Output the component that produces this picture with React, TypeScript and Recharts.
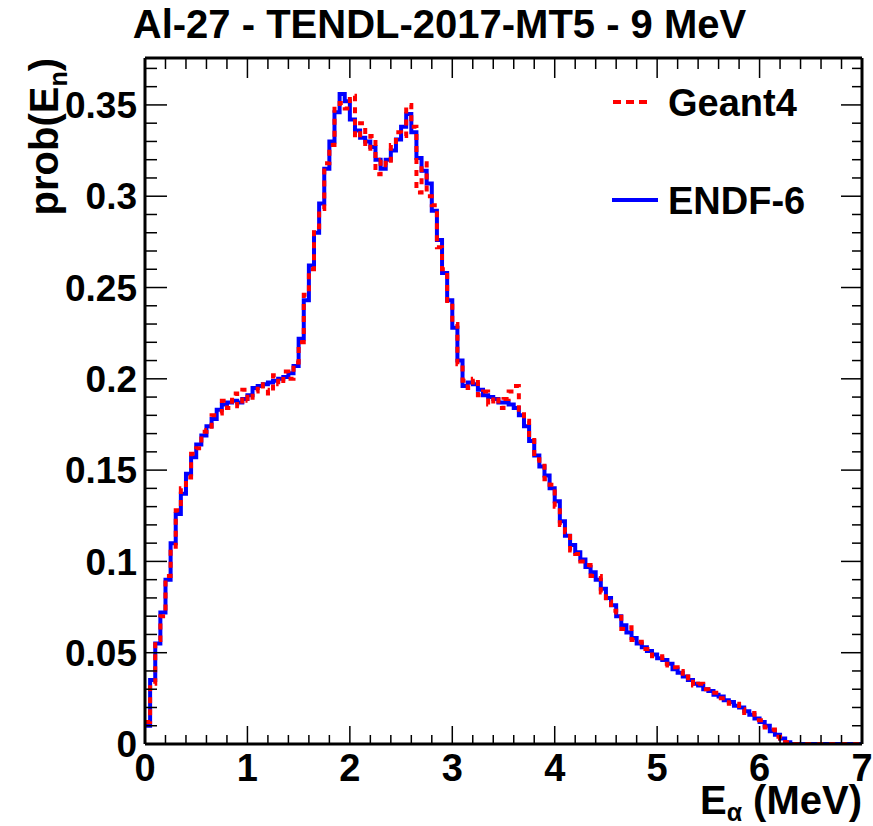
import { LineChart, Line, XAxis, YAxis } from 'recharts'

// bin lower edges (MeV)
const energies = [
  0.0, 0.05, 0.1, 0.15, 0.2, 0.25, 0.3, 0.35, 0.4, 0.45,
  0.5, 0.55, 0.6, 0.65, 0.7, 0.75, 0.8, 0.85, 0.9, 0.95,
  1.0, 1.05, 1.1, 1.15, 1.2, 1.25, 1.3, 1.35, 1.4, 1.45,
  1.5, 1.55, 1.6, 1.65, 1.7, 1.75, 1.8, 1.85, 1.9, 1.95,
  2.0, 2.05, 2.1, 2.15, 2.2, 2.25, 2.3, 2.35, 2.4, 2.45,
  2.5, 2.55, 2.6, 2.65, 2.7, 2.75, 2.8, 2.85, 2.9, 2.95,
  3.0, 3.05, 3.1, 3.15, 3.2, 3.25, 3.3, 3.35, 3.4, 3.45,
  3.5, 3.55, 3.6, 3.65, 3.7, 3.75, 3.8, 3.85, 3.9, 3.95,
  4.0, 4.05, 4.1, 4.15, 4.2, 4.25, 4.3, 4.35, 4.4, 4.45,
  4.5, 4.55, 4.6, 4.65, 4.7, 4.75, 4.8, 4.85, 4.9, 4.95,
  5.0, 5.05, 5.1, 5.15, 5.2, 5.25, 5.3, 5.35, 5.4, 5.45,
  5.5, 5.55, 5.6, 5.65, 5.7, 5.75, 5.8, 5.85, 5.9, 5.95,
  6.0, 6.05, 6.1, 6.15, 6.2, 6.25, 6.3, 7.0,
]

const endf6 = [
  0.010, 0.035, 0.055, 0.072, 0.090, 0.110, 0.126, 0.137, 0.148, 0.157,
  0.164, 0.169, 0.174, 0.178, 0.183, 0.186, 0.187, 0.188, 0.187, 0.189,
  0.191, 0.195, 0.196, 0.197, 0.198, 0.199, 0.200, 0.201, 0.203, 0.207,
  0.222, 0.243, 0.262, 0.280, 0.296, 0.315, 0.330, 0.346, 0.356, 0.352,
  0.342, 0.336, 0.332, 0.330, 0.327, 0.320, 0.315, 0.320, 0.325, 0.331,
  0.338, 0.345, 0.335, 0.321, 0.314, 0.307, 0.292, 0.276, 0.258, 0.243,
  0.228, 0.210, 0.196, 0.198, 0.197, 0.194, 0.191, 0.190, 0.189, 0.187,
  0.187, 0.186, 0.184, 0.180, 0.174, 0.166, 0.158, 0.152, 0.147, 0.140,
  0.133, 0.122, 0.114, 0.109, 0.105, 0.101, 0.097, 0.094, 0.090, 0.085,
  0.080, 0.076, 0.070, 0.065, 0.061, 0.058, 0.055, 0.053, 0.051, 0.049,
  0.047, 0.046, 0.044, 0.041, 0.039, 0.037, 0.035, 0.033, 0.032, 0.030,
  0.029, 0.027, 0.026, 0.024, 0.023, 0.021, 0.020, 0.018, 0.016, 0.014,
  0.012, 0.010, 0.007, 0.005, 0.003, 0.001, 0, 0,
]

const geant4 = [
  0.012, 0.033, 0.057, 0.070, 0.092, 0.108, 0.128, 0.140, 0.146, 0.159,
  0.162, 0.171, 0.172, 0.180, 0.181, 0.188, 0.184, 0.192, 0.185, 0.194,
  0.188, 0.193, 0.197, 0.194, 0.192, 0.202, 0.197, 0.204, 0.200, 0.209,
  0.220, 0.246, 0.260, 0.283, 0.293, 0.318, 0.328, 0.349, 0.351, 0.348,
  0.355, 0.332, 0.340, 0.326, 0.333, 0.312, 0.320, 0.317, 0.328, 0.335,
  0.333, 0.350, 0.338, 0.302, 0.318, 0.300, 0.295, 0.272, 0.260, 0.240,
  0.230, 0.208, 0.199, 0.195, 0.200, 0.191, 0.193, 0.186, 0.190, 0.184,
  0.189, 0.193, 0.196, 0.183, 0.177, 0.168, 0.156, 0.154, 0.145, 0.142,
  0.130, 0.120, 0.116, 0.106, 0.104, 0.100, 0.098, 0.092, 0.092, 0.083,
  0.078, 0.073, 0.072, 0.063, 0.064, 0.057, 0.056, 0.052, 0.052, 0.048,
  0.048, 0.044, 0.043, 0.042, 0.040, 0.036, 0.037, 0.032, 0.033, 0.030,
  0.028, 0.028, 0.025, 0.025, 0.022, 0.022, 0.019, 0.017, 0.017, 0.013,
  0.013, 0.009, 0.008, 0.004, 0.003, 0.001, 0, 0,
]

const xMajor = [0, 1, 2, 3, 4, 5, 6, 7]
const xMinor = [
  0, 0.2, 0.4, 0.6, 0.8, 1, 1.2, 1.4, 1.6, 1.8, 2, 2.2, 2.4, 2.6, 2.8, 3, 3.2, 3.4,
  3.6, 3.8, 4, 4.2, 4.4, 4.6, 4.8, 5, 5.2, 5.4, 5.6, 5.8, 6, 6.2, 6.4, 6.6, 6.8, 7,
]
const yMajor = [0, 0.05, 0.1, 0.15, 0.2, 0.25, 0.3, 0.35]
const yLabels = ['0', '0.05', '0.1', '0.15', '0.2', '0.25', '0.3', '0.35']
const yMinor = [
  0, 0.01, 0.02, 0.03, 0.04, 0.05, 0.06, 0.07, 0.08, 0.09, 0.1, 0.11, 0.12, 0.13,
  0.14, 0.15, 0.16, 0.17, 0.18, 0.19, 0.2, 0.21, 0.22, 0.23, 0.24, 0.25, 0.26,
  0.27, 0.28, 0.29, 0.3, 0.31, 0.32, 0.33, 0.34, 0.35, 0.36, 0.37,
]

const X_DOMAIN: [number, number] = [0, 7]
const Y_DOMAIN: [number, number] = [0, 0.3757]
const FONT = '"Liberation Sans", Arial, Helvetica, sans-serif'
const AX = { stroke: '#000', strokeWidth: 3 }
const TICK_W = 1.5

const data = energies.map((e, i) => ({ e, endf: endf6[i], geant: geant4[i] }))

// ticks are drawn inward from the frame, ROOT style
function BottomTick({ x, y, payload }: any) {
  const major = xMajor.includes(payload.value)
  return (
    <g>
      <line x1={x} x2={x} y1={y} y2={y - (major ? 18 : 9)} stroke="#000" strokeWidth={TICK_W} />
      {major && (
        <text x={x} y={y + 10} dy="0.71em" textAnchor="middle" fontFamily={FONT} fontWeight="bold" fontSize={38} fill="#000">
          {payload.value}
        </text>
      )}
    </g>
  )
}

function TopTick({ x, y, payload }: any) {
  const major = xMajor.includes(payload.value)
  return <line x1={x} x2={x} y1={y} y2={y + (major ? 20 : 11)} stroke="#000" strokeWidth={TICK_W} />
}

function LeftTick({ x, y, payload }: any) {
  const i = yMajor.indexOf(payload.value)
  return (
    <g>
      <line x1={x} x2={x + (i >= 0 ? 22 : 12)} y1={y} y2={y} stroke="#000" strokeWidth={TICK_W} />
      {i >= 0 && (
        <text x={x - 8} y={y} dy="0.355em" textAnchor="end" fontFamily={FONT} fontWeight="bold" fontSize={37} fill="#000">
          {yLabels[i]}
        </text>
      )}
    </g>
  )
}

function RightTick({ x, y, payload }: any) {
  const major = yMajor.includes(payload.value)
  return <line x1={x} x2={x - (major ? 21 : 10)} y1={y} y2={y} stroke="#000" strokeWidth={TICK_W} />
}

function XTitle(props: any) {
  const { x, y, width } = props.viewBox
  return (
    <text x={x + width} y={y + 70} textAnchor="end" fontFamily={FONT} fontWeight="bold" fontSize={40} fill="#000">
      E<tspan fontSize={25} dy={7}>α</tspan><tspan dy={-7}> (MeV)</tspan>
    </text>
  )
}

function YTitle(props: any) {
  const { y } = props.viewBox
  return (
    <text x={0} y={0} transform={`translate(58, ${y}) rotate(-90)`} textAnchor="end" fontFamily={FONT} fontWeight="bold" fontSize={40} fill="#000">
      prob(E<tspan fontSize={25} dy={9}>n</tspan><tspan dy={-9}>)</tspan>
    </text>
  )
}

function LegendBox() {
  return (
    <svg width={230} height={150} style={{ position: 'absolute', left: 605, top: 80 }}>
      <line x1={8} x2={47} y1={22} y2={22} stroke="#ff0000" strokeWidth={4} strokeDasharray="8 5" />
      <text x={63} y={36} fontFamily={FONT} fontWeight="bold" fontSize={38} fill="#000">Geant4</text>
      <line x1={7} x2={53} y1={120} y2={120} stroke="#0000ff" strokeWidth={4} />
      <text x={63} y={134} fontFamily={FONT} fontWeight="bold" fontSize={38} fill="#000">ENDF-6</text>
    </svg>
  )
}

export default function App() {
  return (
    <div style={{ position: 'absolute', left: 0, top: 0, width: 873, height: 826, background: '#fff' }}>
      <div style={{ position: 'absolute', left: 0, width: 873, top: 1, textAlign: 'center', fontFamily: FONT, fontWeight: 'bold', fontSize: 40, lineHeight: '46px', paddingLeft: 6, boxSizing: 'border-box' }}>
        Al-27 - TENDL-2017-MT5 - 9 MeV
      </div>
      <LineChart width={873} height={826} data={data} margin={{ top: 57, right: 10, bottom: 81, left: 144 }} style={{ position: 'absolute', left: 0, top: 0 }}>
        <XAxis xAxisId="x" dataKey="e" type="number" domain={X_DOMAIN} ticks={xMinor} height={1} interval={0}
          axisLine={AX} tickLine={false} tickSize={0} tickMargin={0} allowDataOverflow
          tick={<BottomTick />} label={{ content: XTitle }} />
        <XAxis xAxisId="t" dataKey="e" orientation="top" type="number" domain={X_DOMAIN} ticks={xMinor} height={1} interval={0}
          axisLine={AX} tickLine={false} tickSize={0} tickMargin={0} allowDataOverflow tick={<TopTick />} />
        <YAxis yAxisId="y" type="number" domain={Y_DOMAIN} ticks={yMinor} width={1} interval={0}
          axisLine={AX} tickLine={false} tickSize={0} tickMargin={0} allowDataOverflow
          tick={<LeftTick />} label={{ content: YTitle }} />
        <YAxis yAxisId="r" orientation="right" type="number" domain={Y_DOMAIN} ticks={yMinor} width={1} interval={0}
          axisLine={AX} tickLine={false} tickSize={0} tickMargin={0} allowDataOverflow tick={<RightTick />} />

        <Line xAxisId="x" yAxisId="y" type="stepAfter" dataKey="endf" name="ENDF-6" stroke="#0000ff" strokeWidth={4} dot={false} isAnimationActive={false} />
        <Line xAxisId="x" yAxisId="y" type="stepAfter" dataKey="geant" name="Geant4" stroke="#ff0000" strokeWidth={4} strokeDasharray="6 6" dot={false} isAnimationActive={false} />
      </LineChart>
      <LegendBox />
    </div>
  )
}
